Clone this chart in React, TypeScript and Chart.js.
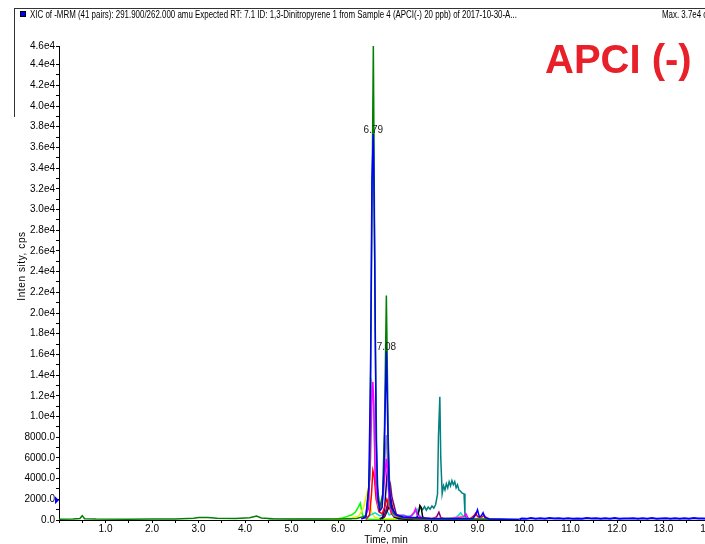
import React, { useEffect, useRef } from "react";
import { Chart, registerables } from "chart.js";
Chart.register(...registerables);

// ---- tick values ----
const xTickValues = [0, 0.5, 1, 1.5, 2, 2.5, 3, 3.5, 4, 4.5, 5, 5.5, 6, 6.5, 7, 7.5, 8, 8.5, 9, 9.5, 10, 10.5, 11, 11.5, 12, 12.5, 13, 13.5, 14];
const yTickValues = [0, 1000, 2000, 3000, 4000, 5000, 6000, 7000, 8000, 9000, 10000, 11000, 12000, 13000, 14000, 15000, 16000, 17000, 18000, 19000, 20000, 21000, 22000, 23000, 24000, 25000, 26000, 27000, 28000, 29000, 30000, 31000, 32000, 33000, 34000, 35000, 36000, 37000, 38000, 39000, 40000, 41000, 42000, 43000, 44000, 45800];
const yMax = 45800;

// ---- series (time, min / intensity, cps) ----
const blueT = [6.5, 6.6, 6.66, 6.7, 6.73, 6.76, 6.79, 6.82, 6.86, 6.9, 6.95, 6.99, 7.02, 7.04, 7.07, 7.1, 7.15, 7.25, 7.4, 7.6, 7.8, 8.0, 8.5, 8.9, 8.96, 9.0, 9.04, 9.08, 9.12, 9.16, 9.25, 9.5, 9.9];
const blueV = [100, 300, 3000, 14000, 33000, 37300, 25000, 8000, 2000, 900, 1200, 5000, 12000, 16300, 9000, 3000, 1200, 500, 300, 250, 200, 150, 120, 150, 500, 990, 300, 400, 700, 250, 100, 80, 60];

const blueTailT = [9.9, 9.95, 10.05, 10.15, 10.25, 10.35, 10.45, 10.55, 10.65, 10.75, 10.85, 10.95, 11.05, 11.15, 11.25, 11.35, 11.45, 11.55, 11.65, 11.75, 11.85, 11.95, 12.05, 12.15, 12.25, 12.35, 12.45, 12.55, 12.65, 12.75, 12.85, 12.95, 13.05, 13.15, 13.25, 13.35, 13.45, 13.55, 13.65, 13.75, 13.85, 13.95, 14.0];
const blueTailV = [50, 150, 110, 200, 130, 170, 120, 190, 140, 160, 110, 180, 130, 150, 120, 190, 140, 170, 110, 160, 130, 200, 120, 150, 140, 180, 110, 160, 130, 190, 120, 150, 170, 110, 180, 130, 160, 120, 190, 140, 150, 120, 140];

const greenT = [0, 0.3, 0.45, 0.5, 0.55, 0.8, 1.5, 2.0, 2.5, 2.9, 3.0, 3.2, 3.4, 3.8, 4.1, 4.25, 4.35, 4.6, 5.0, 5.5, 6.0, 6.4, 6.6, 6.68, 6.72, 6.76, 6.8, 6.84, 6.9, 6.96, 7.0, 7.04, 7.08, 7.12, 7.2, 7.35, 7.6, 8.0, 9.0, 9.6];
const greenV = [80, 90, 150, 420, 120, 90, 80, 90, 100, 180, 250, 230, 170, 150, 220, 380, 200, 120, 100, 90, 100, 150, 400, 4000, 24000, 45800, 18000, 3500, 1200, 2500, 9000, 21700, 8000, 1500, 600, 250, 150, 100, 80, 60];

const magentaT = [6.55, 6.65, 6.7, 6.73, 6.75, 6.77, 6.8, 6.85, 6.9, 6.95, 7.0, 7.04, 7.07, 7.1, 7.15, 7.25, 7.4, 7.55, 7.63, 7.67, 7.7, 7.8, 8.0, 8.4, 8.7, 8.75, 8.8, 9.0, 9.4];
const magentaV = [100, 1000, 6000, 12000, 13340, 11000, 4000, 1800, 1300, 1800, 4000, 5900, 4500, 1800, 800, 500, 400, 300, 700, 1100, 500, 200, 150, 150, 300, 600, 150, 100, 50];

const grayT = [6.6, 6.66, 6.7, 6.73, 6.76, 6.8, 6.85, 6.92, 6.98, 7.02, 7.04, 7.07, 7.1, 7.2, 7.4, 8.0, 9.0, 9.3, 9.6, 9.9];
const grayV = [150, 2000, 9000, 13200, 12500, 5000, 1500, 1000, 2500, 7000, 8200, 5000, 1500, 400, 250, 150, 150, 120, 100, 80];

const redT = [6.6, 6.68, 6.72, 6.75, 6.78, 6.82, 6.88, 6.95, 7.0, 7.05, 7.1, 7.15, 7.25, 7.5, 8.0, 8.5, 8.85, 8.92, 8.96, 9.0, 9.05, 9.1, 9.14, 9.2, 9.3, 9.5];
const redV = [50, 500, 2500, 4790, 4200, 2000, 800, 600, 1200, 2000, 1400, 600, 300, 150, 100, 100, 150, 400, 660, 350, 200, 300, 450, 200, 80, 50];

const navyT = [6.95, 7.0, 7.04, 7.07, 7.1, 7.14, 7.2, 7.3, 7.6];
const navyV = [100, 1000, 3500, 5280, 3000, 900, 300, 150, 80];

const purpleT = [6.9, 7.0, 7.06, 7.1, 7.13, 7.16, 7.2, 7.25, 7.35, 7.6, 8.0, 8.12, 8.17, 8.21, 8.3, 8.6];
const purpleV = [100, 400, 1200, 2500, 3340, 2200, 1500, 600, 200, 100, 100, 300, 760, 250, 100, 80];

const darkRedT = [6.95, 7.02, 7.08, 7.12, 7.16, 7.22, 7.3, 7.5];
const darkRedV = [80, 600, 1800, 2500, 1500, 500, 200, 80];

const blackT = [6.9, 7.0, 7.05, 7.1, 7.15, 7.2, 7.3, 7.6, 7.7, 7.74, 7.76, 7.79, 7.82, 7.9, 8.1];
const blackV = [100, 300, 800, 1300, 900, 400, 150, 100, 200, 900, 1400, 1200, 300, 100, 60];

const tealT = [7.6, 7.7, 7.74, 7.78, 7.82, 7.86, 7.9, 7.94, 7.98, 8.02, 8.06, 8.1, 8.14, 8.16, 8.19, 8.21, 8.24, 8.27, 8.3, 8.33, 8.36, 8.39, 8.42, 8.45, 8.48, 8.51, 8.54, 8.57, 8.6, 8.63, 8.67, 8.71, 8.73, 8.76, 8.9];
const tealV = [100, 300, 900, 1250, 1000, 1300, 950, 1250, 1050, 1350, 1150, 1500, 2500, 8000, 11900, 6000, 2540, 3300, 2900, 3500, 3100, 3700, 3300, 3800, 3400, 3700, 3100, 3400, 2900, 2800, 2600, 2540, 600, 100, 60];

const cyanT = [6.6, 6.7, 6.8, 6.9, 7.0, 7.05, 7.1, 7.2, 7.3, 7.4, 7.5, 7.6, 7.66, 7.7, 7.74, 7.8, 8.0, 8.4, 8.55, 8.6, 8.64, 8.68, 8.75, 8.9, 9.2];
const cyanV = [100, 500, 700, 400, 600, 900, 500, 600, 400, 500, 350, 450, 800, 1030, 500, 200, 100, 100, 300, 500, 700, 400, 200, 100, 60];

const yellowT = [5.8, 6.1, 6.3, 6.45, 6.55, 6.6, 6.64, 6.68, 6.72, 6.78, 6.85, 7.0, 7.5, 8.0, 8.5, 8.58, 8.62, 8.66, 8.7, 8.8, 9.0, 9.3];
const yellowV = [30, 80, 200, 400, 1200, 2200, 2860, 2000, 800, 300, 200, 150, 100, 80, 100, 350, 440, 250, 300, 100, 80, 50];

const limeT = [5.9, 6.1, 6.2, 6.3, 6.38, 6.43, 6.48, 6.52, 6.56, 6.62, 6.7, 7.0, 7.5, 8.0, 8.2, 8.4, 8.5, 8.6, 9.0];
const limeV = [60, 200, 350, 500, 800, 1200, 1630, 600, 200, 100, 80, 60, 60, 80, 150, 200, 180, 100, 60];

const lightGrayT = [4.5, 4.8, 5.0, 5.3, 5.5, 5.8, 6.0, 6.3];
const lightGrayV = [90, 80, 70, 85, 90, 75, 80, 60];

// ---- peak labels ----
const peakLabels = ["6.79", "7.08"];
const peakTimes = [6.76, 7.04];
const peakValues = [37300, 16300];

const headerText = "XIC of -MRM (41 pairs): 291.900/262.000 amu Expected RT: 7.1 ID: 1,3-Dinitropyrene 1 from Sample 4 (APCI(-) 20 ppb) of 2017-10-30-A...";
const maxText = "Max. 3.7e4 cps.";
const badgeText = "APCI (-)";
const xTitle = "Time, min";
const yTitle = "Inten sity, cps";

const toPts = (t: number[], v: number[]) => t.map((x, i) => ({ x, y: v[i] }));

const FONT = "'Liberation Sans', Arial, sans-serif";

const fmtY = (v: number) => {
  if (v >= 10000) return (v / 10000).toFixed(1) + "e4";
  return v.toFixed(1);
};

const overlay = {
  id: "overlay",
  afterDraw(chart: any) {
    const ctx = chart.ctx as CanvasRenderingContext2D;
    const xs = chart.scales.x;
    const ys = chart.scales.y;
    ctx.save();
    // frame lines
    ctx.strokeStyle = "#333";
    ctx.lineWidth = 1;
    ctx.beginPath();
    ctx.moveTo(14, 8.5);
    ctx.lineTo(730, 8.5);
    ctx.moveTo(14.5, 8);
    ctx.lineTo(14.5, 117);
    ctx.stroke();
    // blue square
    ctx.fillStyle = "#0000ff";
    ctx.fillRect(20, 11, 6, 6);
    ctx.strokeStyle = "#000";
    ctx.strokeRect(20.5, 11.5, 5, 5);
    // header
    ctx.fillStyle = "#000";
    ctx.font = "10px " + FONT;
    ctx.textBaseline = "alphabetic";
    ctx.textAlign = "left";
    const w = ctx.measureText(headerText).width;
    const sx = 487 / w;
    ctx.save();
    ctx.translate(30, 17.5);
    ctx.scale(sx, 1);
    ctx.fillText(headerText, 0, 0);
    ctx.restore();
    ctx.save();
    ctx.translate(662, 17.5);
    ctx.scale(sx, 1);
    ctx.fillText(maxText, 0, 0);
    ctx.restore();
    // badge
    ctx.fillStyle = "#e8202a";
    ctx.font = "bold 40px " + FONT;
    ctx.fillText(badgeText, 545, 73);
    // axis titles
    ctx.fillStyle = "#000";
    ctx.font = "10px " + FONT;
    ctx.textAlign = "center";
    ctx.textBaseline = "top";
    ctx.fillText(xTitle, 386, 535);
    ctx.save();
    ctx.translate(22, 266);
    ctx.rotate(-Math.PI / 2);
    ctx.textBaseline = "middle";
    (ctx as any).letterSpacing = "0.6px";
    ctx.fillText(yTitle, 0, 0);
    ctx.restore();
    // peak labels
    ctx.textAlign = "center";
    ctx.textBaseline = "bottom";
    ctx.fillStyle = "#222";
    peakLabels.forEach((lbl, i) => {
      ctx.fillText(lbl, xs.getPixelForValue(peakTimes[i]), ys.getPixelForValue(peakValues[i]) + 1);
    });
    // marker on y axis
    const my = ys.getPixelForValue(1900);
    const ax = chart.chartArea.left;
    ctx.fillStyle = "#0000ff";
    ctx.beginPath();
    ctx.moveTo(ax - 4, my - 4);
    ctx.lineTo(ax, my);
    ctx.lineTo(ax - 4, my + 4);
    ctx.closePath();
    ctx.fill();
    ctx.restore();
  },
};

export default function App() {
  const ref = useRef<HTMLCanvasElement>(null);
  useEffect(() => {
    if (!ref.current) return;
    const ds = (label: string, t: number[], v: number[], color: string, width = 1.5) => ({
      label,
      data: toPts(t, v),
      borderColor: color,
      backgroundColor: color,
      borderWidth: width,
      pointRadius: 0,
      tension: 0,
      fill: false,
    });
    const chart = new Chart(ref.current, {
      type: "line",
      data: {
        datasets: [
          ds("blue", blueT, blueV, "#0000ff"),
          ds("green", greenT, greenV, "#008000"),
          ds("magenta", magentaT, magentaV, "#ff00ff"),
          ds("gray", grayT, grayV, "#909090"),
          ds("red", redT, redV, "#ff0000"),
          ds("navy", navyT, navyV, "#000080"),
          ds("purple", purpleT, purpleV, "#800080"),
          ds("darkred", darkRedT, darkRedV, "#800000"),
          ds("black", blackT, blackV, "#000000"),
          ds("teal", tealT, tealV, "#008080"),
          ds("cyan", cyanT, cyanV, "#00e0e0"),
          ds("yellow", yellowT, yellowV, "#f0f000"),
          ds("lime", limeT, limeV, "#00ff00"),
          ds("blueTail", blueTailT, blueTailV, "#0000ff", 2),
          ds("lightgray", lightGrayT, lightGrayV, "#b8c4b8", 2),
        ],
      },
      options: {
        animation: false,
        responsive: false,
        maintainAspectRatio: false,
        events: [],
        font: { family: FONT },
        layout: { padding: { top: 46, right: 20, bottom: 0, left: 0 } },
        plugins: { legend: { display: false }, tooltip: { enabled: false } },
        scales: {
          x: {
            type: "linear",
            min: 0,
            max: 14,
            afterBuildTicks: (s: any) => {
              s.ticks = xTickValues.map((v) => ({ value: v }));
            },
            afterFit: (s: any) => {
              s.height = 24;
              s.paddingLeft = 0;
              s.paddingRight = 0;
            },
            ticks: {
              autoSkip: false,
              maxRotation: 0,
              padding: 0,
              color: "#000",
              font: { size: 10, family: FONT },
              callback: (v: any) => (Number(v) >= 1 && Number(v) % 1 === 0 ? Number(v).toFixed(1) : ""),
            },
            grid: { display: true, drawOnChartArea: false, drawTicks: true, tickLength: 3, color: "#000" },
            border: { display: true, color: "#000", width: 1 },
          },
          y: {
            type: "linear",
            min: 0,
            max: yMax,
            afterBuildTicks: (s: any) => {
              s.ticks = yTickValues.map((v) => ({ value: v }));
            },
            afterFit: (s: any) => {
              s.width = 59;
              s.paddingTop = 0;
              s.paddingBottom = 0;
            },
            ticks: {
              autoSkip: false,
              padding: 1,
              color: "#000",
              font: { size: 10, family: FONT },
              callback: (v: any) => {
                const n = Number(v);
                return n % 2000 === 0 || n === yMax ? fmtY(n) : "";
              },
            },
            grid: { display: true, drawOnChartArea: false, drawTicks: true, tickLength: 3, color: "#000" },
            border: { display: true, color: "#000", width: 1 },
          },
        },
      } as any,
      plugins: [overlay],
    });
    return () => chart.destroy();
  }, []);
  return (
    <div style={{ position: "fixed", left: 0, top: 0, width: 705, height: 544, overflow: "hidden", background: "#fff" }}>
      <canvas ref={ref} width={730} height={544} style={{ display: "block", width: 730, height: 544 }} />
    </div>
  );
}
